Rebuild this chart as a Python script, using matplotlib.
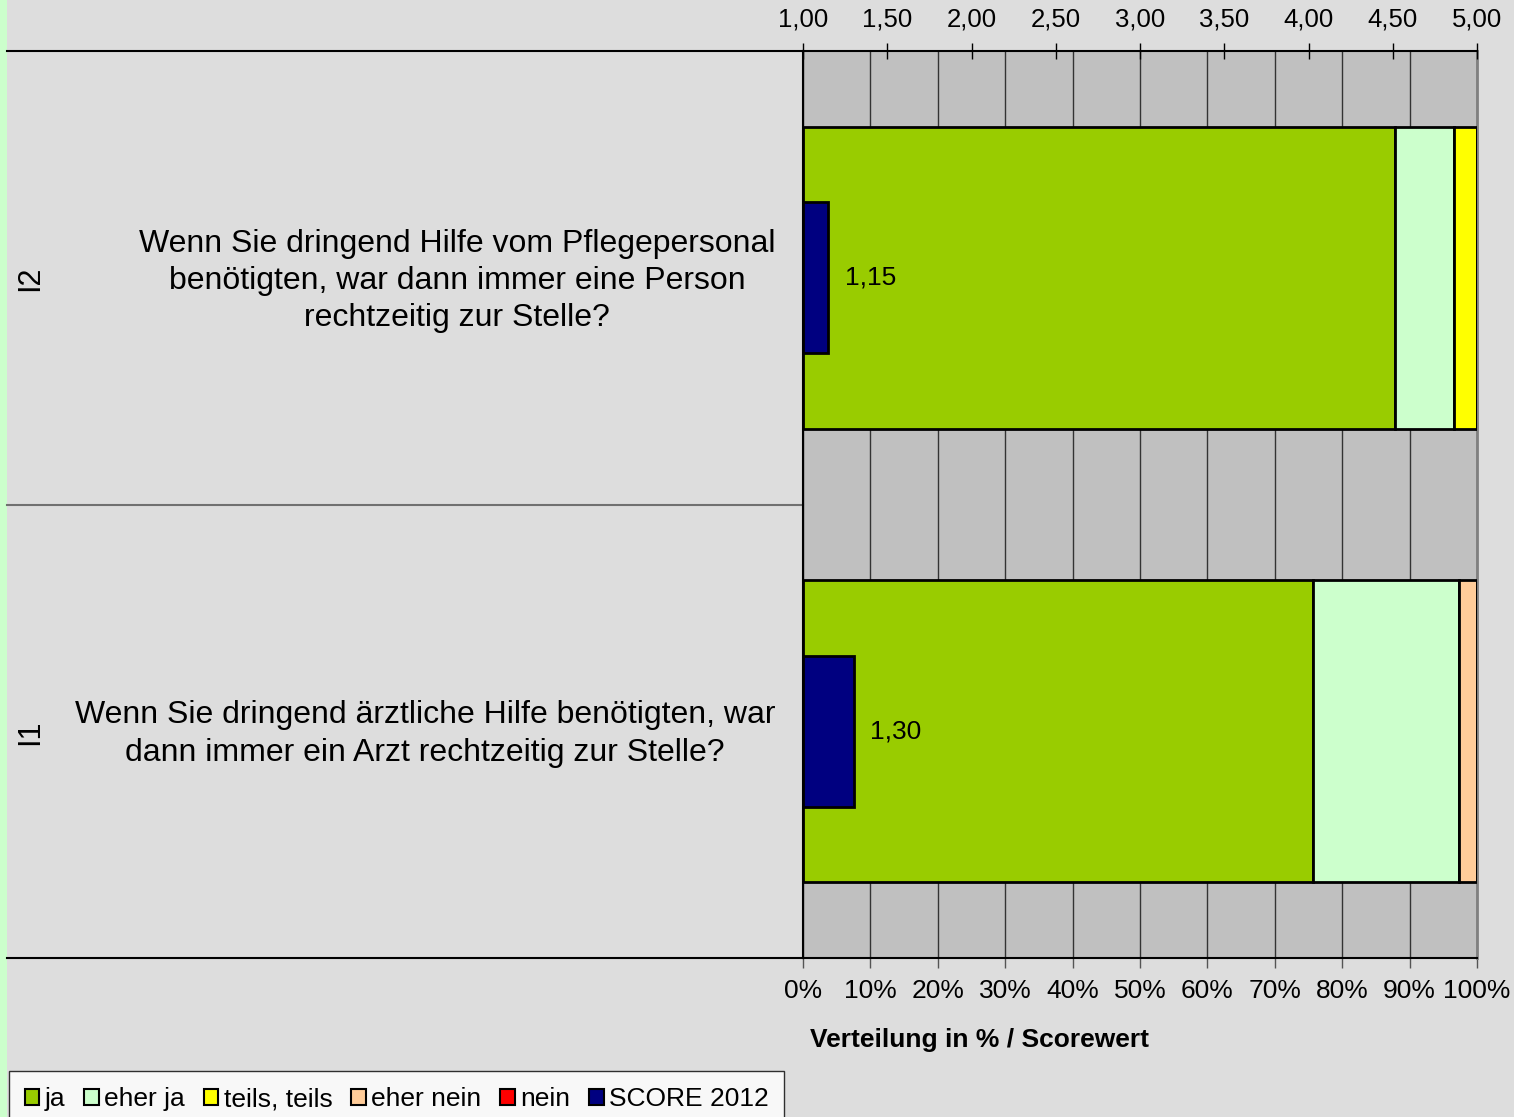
import matplotlib.pyplot as plt
from matplotlib.patches import Patch, Rectangle
import numpy as np

plt.rcParams['font.family'] = ['Liberation Sans', 'DejaVu Sans']

# data (bottom to top)
codes = ['I1', 'I2']
questions = ['Wenn Sie dringend ärztliche Hilfe benötigten, war\ndann immer ein Arzt rechtzeitig zur Stelle?',
             'Wenn Sie dringend Hilfe vom Pflegepersonal\nbenötigten, war dann immer eine Person\nrechtzeitig zur Stelle?']
categories = ['ja', 'eher ja', 'teils, teils', 'eher nein', 'nein']
ja = [75.7, 87.8]
eher_ja = [21.6, 8.8]
teils = [0.0, 3.4]
eher_nein = [2.7, 0.0]
nein = [0.0, 0.0]
scores = [1.30, 1.15]
score_labels = ['1,30', '1,15']
colors = ['#99CC00', '#CCFFCC', '#FFFF00', '#FFCC99', '#FF0000']
score_color = '#000080'

W, H = 1514, 1117
fig = plt.figure(figsize=(W / 100, H / 100), dpi=100, facecolor='#DDDDDD')
fig.patches.append(Rectangle((0, 0), 7 / W, 1, transform=fig.transFigure,
                             facecolor='#CCFFCC', edgecolor='none', zorder=-1))

ax = fig.add_axes([803 / W, 1 - 958 / H, 674 / W, 907 / H])
ax.set_facecolor('#C0C0C0')
y = np.arange(len(codes))
series = [ja, eher_ja, teils, eher_nein, nein]
left = np.zeros(len(codes))
for vals, c in zip(series, colors):
    vals = np.array(vals)
    ax.barh(y, vals, left=left, height=0.666, color=c, edgecolor='black', linewidth=2, zorder=3)
    left += vals

ax.set_xlim(0, 100)
ax.set_ylim(-0.5, 1.5)
ax.set_xticks(np.arange(0, 101, 10))
ax.set_xticklabels([f'{v}%' for v in range(0, 101, 10)], fontsize=19)
ax.set_yticks([])
ax.xaxis.grid(True, color='#333333', linewidth=1, zorder=0)
ax.set_axisbelow(True)
ax.tick_params(axis='x', direction='out', length=7, width=1, color='#555555', pad=8)
for s in ['left', 'bottom', 'top']:
    ax.spines[s].set_color('black')
    ax.spines[s].set_linewidth(1.5)
ax.spines['right'].set_color('#808080')
ax.spines['right'].set_linewidth(2)

ax2 = ax.twiny()
ax2.barh(y, np.array(scores) - 1, left=1, height=0.333, color=score_color,
         edgecolor='black', linewidth=2, zorder=4)
ax2.set_xlim(1, 5)
ax2.set_xticks(np.arange(1, 5.01, 0.5))
ax2.set_xticklabels([f'{v:.2f}'.replace('.', ',') for v in np.arange(1, 5.01, 0.5)], fontsize=18.5)
ax2.tick_params(axis='x', direction='inout', length=12, width=1, pad=8)
for s in ax2.spines.values():
    s.set_visible(False)
for yi, sc, lab in zip(y, scores, score_labels):
    ax2.annotate(lab, (sc, yi), xytext=(12, 0), textcoords='offset points',
                 va='center', ha='left', fontsize=19, zorder=5)

# category separators and labels on the left
for yy, col in [(1.0, 'black'), (0.5, '#707070'), (0.0, 'black')]:
    ax.plot([-(803 - 7) / 674, 0], [yy, yy], transform=ax.transAxes,
            color=col, linewidth=1.5, clip_on=False)

q_x = [425, 457]
q_y = [734, 281]
code_y = [732, 278]
for code, q, qx, qy, cy in zip(codes, questions, q_x, q_y, code_y):
    fig.text(30 / W, 1 - cy / H, code, rotation=90, ha='center', va='center', fontsize=22)
    fig.text(qx / W, 1 - qy / H, q, ha='center', va='center', fontsize=23, linespacing=1.32)

fig.text(980 / W, 1 - 1040 / H, 'Verteilung in % / Scorewert', ha='center', va='center',
         fontsize=19, fontweight='bold')

handles = [Patch(facecolor=c, edgecolor='black', linewidth=1.5) for c in colors]
handles.append(Patch(facecolor=score_color, edgecolor='black', linewidth=1.5))
labels = categories + ['SCORE 2012']
leg = fig.legend(handles, labels, loc='lower left', bbox_to_anchor=(9 / W, -10 / H),
                 ncol=6, fontsize=19, frameon=True, fancybox=False,
                 handlelength=0.55, handleheight=0.55, handletextpad=0.2,
                 columnspacing=0.72, borderpad=0.6, borderaxespad=0)
leg.get_frame().set_edgecolor('black')
leg.get_frame().set_linewidth(1)
leg.get_frame().set_facecolor('white')

fig.savefig('out.png', dpi=100, facecolor=fig.get_facecolor())
